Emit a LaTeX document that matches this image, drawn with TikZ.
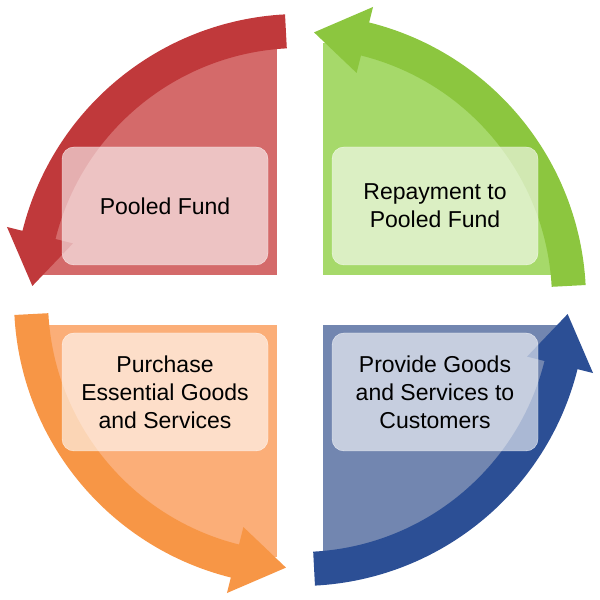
\documentclass[tikz,border=0pt]{standalone}
\usepackage{fontspec}
\setmainfont{Liberation Sans}
\begin{document}
\begin{tikzpicture}[x=1pt,y=1pt,
  box/.style={draw=white,fill=white,fill opacity=0.6,draw opacity=0.7,rounded corners=12pt,minimum width=206pt,minimum height=118pt,align=center,text opacity=1,font=\fontsize{23}{36}\selectfont}]
\useasboundingbox (0,0) rectangle (600,600);
\definecolor{rA}{HTML}{C0393B}\definecolor{rF}{HTML}{D46A6A}
\definecolor{gA}{HTML}{8CC63F}\definecolor{gF}{HTML}{A6D96A}
\definecolor{oA}{HTML}{F79646}\definecolor{oF}{HTML}{FBAE78}
\definecolor{bA}{HTML}{2C4F95}\definecolor{bF}{HTML}{7286B0}
\begin{scope}[shift={(300,300)}]
\foreach \c/\sx/\sy in {rF/-1/1,gF/1/1,oF/-1/-1,bF/1/-1}{
  \begin{scope}
  \clip (0,0) circle (258);
  \fill[\c] (\sx*23,\sy*25) rectangle (\sx*300,\sy*300);
  \end{scope}}
\foreach \c/\a/\b in {gA/3/87,rA/93/177,oA/183/267,bA/273/357}{
  \pgfmathsetmacro\h{\b-11}
  \fill[\c] (\a:286) arc[start angle=\a,end angle=\h,radius=286] -- (\h:302) -- (\b:268) -- (\h:234) -- (\h:252) arc[start angle=\h,end angle=\a,radius=252] -- cycle;}
\end{scope}
\node[box] (pf) at (165,394) {Pooled Fund};
\node[box] (rp) at (435,394) {Repayment to\\[-8pt]Pooled Fund};
\node[box] (pu) at (165,208) {Purchase\\[-8pt]Essential Goods\\[-8pt]and Services};
\node[box] (pg) at (435,208) {Provide Goods\\[-8pt]and Services to\\[-8pt]Customers};
\end{tikzpicture}
\end{document}
